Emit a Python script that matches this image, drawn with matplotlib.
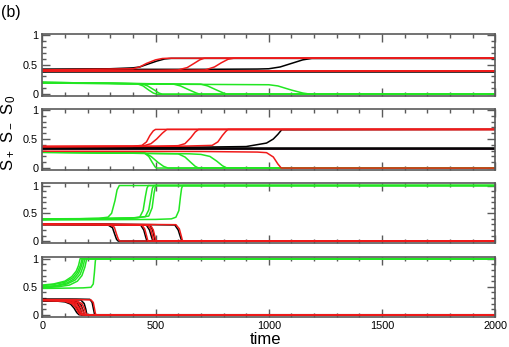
import matplotlib
matplotlib.use("Agg")
import matplotlib.pyplot as plt
from matplotlib.ticker import MultipleLocator, FixedLocator

plt.rcParams['font.family'] = ['Liberation Sans', 'DejaVu Sans']

# ---------------- data (time, value) for each curve ----------------
X_TICKS = [0, 500, 1000, 1500, 2000]
Y_TICKS = [0, 0.5, 1]
Y_TICK_LABELS = ["0", "0.5", "1"]

# Panel 1
P1_RED = [
    ([0, 2000], [0.392, 0.392]),
    ([0, 2000], [0.386, 0.386]),
    ([0, 2000], [0.397, 0.397]),
    ([0, 400, 430, 460, 500, 530, 560, 2000], [0.41, 0.43, 0.46, 0.52, 0.58, 0.603, 0.608, 0.608]),
    ([0, 500, 600, 640, 670, 695, 715, 2000], [0.40, 0.40, 0.41, 0.45, 0.52, 0.58, 0.608, 0.608]),
    ([0, 600, 720, 760, 790, 820, 845, 2000], [0.40, 0.40, 0.41, 0.46, 0.53, 0.59, 0.608, 0.608]),
]
P1_BLACK = [
    ([0, 2000], [0.383, 0.383]),
    ([0, 300, 400, 430, 460, 506, 540, 570, 2000], [0.42, 0.43, 0.445, 0.46, 0.50, 0.56, 0.595, 0.605, 0.605]),
    ([0, 700, 950, 1000, 1050, 1100, 1150, 1190, 2000], [0.42, 0.42, 0.425, 0.43, 0.46, 0.52, 0.58, 0.605, 0.605]),
]
P1_GREEN = [
    ([0, 300, 420, 445, 470, 490, 506, 2000], [0.20, 0.185, 0.175, 0.14, 0.07, 0.02, 0, 0]),
    ([0, 300, 440, 465, 495, 515, 530, 2000], [0.20, 0.185, 0.175, 0.14, 0.07, 0.02, 0, 0]),
    ([0, 400, 580, 610, 650, 680, 696, 2000], [0.20, 0.18, 0.17, 0.14, 0.07, 0.02, 0, 0]),
    ([0, 400, 700, 730, 770, 800, 815, 2000], [0.19, 0.18, 0.17, 0.14, 0.07, 0.02, 0, 0]),
    ([0, 500, 1000, 1040, 1100, 1150, 1185, 2000], [0.19, 0.17, 0.16, 0.14, 0.07, 0.02, 0, 0]),
]

# Panel 2
P2_RED = [
    ([0, 400, 440, 460, 475, 490, 500, 2000], [0.37, 0.375, 0.39, 0.45, 0.56, 0.64, 0.665, 0.665]),
    ([0, 400, 450, 480, 505, 530, 550, 2000], [0.37, 0.375, 0.385, 0.42, 0.50, 0.60, 0.665, 0.665]),
    ([0, 500, 600, 630, 655, 675, 690, 2000], [0.37, 0.375, 0.385, 0.42, 0.52, 0.62, 0.665, 0.665]),
    ([0, 600, 750, 775, 795, 810, 820, 2000], [0.37, 0.375, 0.39, 0.45, 0.56, 0.63, 0.665, 0.665]),
    ([0, 700, 950, 990, 1020, 1040, 1055, 2000], [0.29, 0.285, 0.275, 0.265, 0.19, 0.07, 0, 0]),
]
P2_BLACK = [
    ([0, 2000], [0.337, 0.337]),
    ([0, 2000], [0.333, 0.333]),
    ([0, 700, 900, 990, 1020, 1040, 1057, 2000], [0.355, 0.36, 0.37, 0.43, 0.50, 0.58, 0.66, 0.665]),
]
P2_PURPLE = [
    ([0, 2000], [0.329, 0.329]),
]
P2_GREEN = [
    ([0, 300, 450, 470, 485, 498, 505, 2000], [0.28, 0.265, 0.26, 0.20, 0.10, 0.02, 0, 0]),
    ([0, 300, 455, 480, 510, 535, 555, 2000], [0.275, 0.26, 0.255, 0.20, 0.10, 0.03, 0, 0]),
    ([0, 400, 600, 630, 655, 675, 690, 2000], [0.27, 0.255, 0.245, 0.19, 0.10, 0.03, 0, 0]),
    ([0, 400, 650, 700, 740, 770, 795, 815, 2000], [0.27, 0.255, 0.245, 0.235, 0.20, 0.12, 0.04, 0, 0]),
]

# Panel 3
P3_GREEN = [
    ([0, 150, 250, 290, 306, 321, 330, 340, 2000], [0.39, 0.40, 0.41, 0.43, 0.50, 0.73, 0.92, 1.0, 1.0]),
    ([0, 250, 380, 430, 445, 455, 462, 468, 2000], [0.39, 0.40, 0.41, 0.43, 0.55, 0.80, 0.95, 1.0, 1.0]),
    ([0, 250, 400, 455, 470, 480, 486, 492, 2000], [0.395, 0.405, 0.415, 0.44, 0.56, 0.80, 0.95, 1.0, 1.0]),
    ([0, 250, 420, 470, 485, 493, 500, 2000], [0.40, 0.405, 0.42, 0.45, 0.60, 0.85, 1.0, 1.0]),
    ([0, 300, 500, 570, 590, 603, 610, 615, 620, 2000], [0.38, 0.385, 0.39, 0.40, 0.43, 0.55, 0.80, 0.95, 1.0, 1.0]),
]
P3_BLACK = [
    ([0, 200, 290, 310, 320, 328, 335, 2000], [0.30, 0.30, 0.29, 0.24, 0.12, 0.03, 0, 0]),
    ([0, 300, 435, 448, 456, 462, 2000], [0.30, 0.295, 0.285, 0.20, 0.08, 0, 0]),
    ([0, 300, 460, 473, 482, 488, 2000], [0.30, 0.295, 0.285, 0.20, 0.08, 0, 0]),
    ([0, 300, 475, 487, 494, 499, 2000], [0.30, 0.295, 0.285, 0.20, 0.08, 0, 0]),
    ([0, 300, 585, 600, 610, 616, 2000], [0.31, 0.305, 0.29, 0.20, 0.07, 0, 0]),
]
P3_RED = [
    ([0, 200, 300, 318, 328, 336, 343, 2000], [0.30, 0.30, 0.29, 0.25, 0.12, 0.03, 0, 0]),
    ([0, 300, 440, 452, 460, 465, 468, 2000], [0.30, 0.295, 0.285, 0.22, 0.10, 0.02, 0, 0]),
    ([0, 300, 465, 478, 486, 490, 493, 2000], [0.30, 0.295, 0.285, 0.22, 0.10, 0.02, 0, 0]),
    ([0, 300, 478, 490, 497, 502, 2000], [0.30, 0.295, 0.285, 0.20, 0.08, 0, 0]),
    ([0, 300, 590, 605, 613, 618, 621, 2000], [0.31, 0.305, 0.295, 0.22, 0.10, 0.02, 0, 0]),
]

# Panel 4
P4_GREEN = [
    ([0, 50, 100, 130, 150, 160, 167, 2000], [0.53, 0.55, 0.60, 0.68, 0.78, 0.88, 1.0, 1.0]),
    ([0, 50, 100, 135, 155, 168, 176, 2000], [0.52, 0.54, 0.58, 0.66, 0.76, 0.88, 1.0, 1.0]),
    ([0, 60, 110, 140, 160, 173, 181, 2000], [0.50, 0.52, 0.57, 0.64, 0.74, 0.87, 1.0, 1.0]),
    ([0, 60, 110, 145, 167, 180, 188, 2000], [0.49, 0.51, 0.55, 0.62, 0.72, 0.86, 1.0, 1.0]),
    ([0, 70, 120, 155, 175, 188, 196, 2000], [0.48, 0.50, 0.53, 0.60, 0.70, 0.85, 1.0, 1.0]),
    ([0, 100, 180, 215, 225, 230, 234, 236, 2000], [0.47, 0.475, 0.48, 0.49, 0.55, 0.75, 0.95, 1.0, 1.0]),
]
P4_BLACK = [
    ([0, 60, 100, 125, 140, 152, 162, 2000], [0.25, 0.245, 0.23, 0.19, 0.12, 0.04, 0, 0]),
    ([0, 70, 110, 138, 152, 163, 172, 2000], [0.27, 0.265, 0.25, 0.21, 0.13, 0.04, 0, 0]),
    ([0, 80, 125, 155, 168, 176, 2000], [0.25, 0.245, 0.24, 0.20, 0.10, 0, 0]),
    ([0, 100, 150, 170, 180, 186, 2000], [0.25, 0.25, 0.24, 0.18, 0.08, 0, 0]),
    ([0, 120, 170, 185, 192, 197, 2000], [0.27, 0.27, 0.265, 0.20, 0.10, 0, 0]),
    ([0, 150, 210, 220, 226, 231, 2000], [0.28, 0.28, 0.275, 0.22, 0.10, 0, 0]),
]
P4_RED = [
    ([0, 60, 100, 130, 145, 158, 167, 2000], [0.26, 0.255, 0.24, 0.20, 0.14, 0.05, 0, 0]),
    ([0, 70, 110, 140, 155, 167, 176, 2000], [0.26, 0.255, 0.24, 0.20, 0.13, 0.04, 0, 0]),
    ([0, 80, 120, 150, 163, 174, 181, 2000], [0.25, 0.245, 0.235, 0.20, 0.12, 0.03, 0, 0]),
    ([0, 80, 130, 160, 172, 182, 188, 2000], [0.26, 0.255, 0.245, 0.21, 0.13, 0.04, 0, 0]),
    ([0, 100, 150, 175, 185, 192, 197, 2000], [0.27, 0.265, 0.25, 0.20, 0.12, 0.03, 0, 0]),
    ([0, 150, 215, 225, 230, 234, 237, 2000], [0.27, 0.27, 0.265, 0.22, 0.12, 0.03, 0, 0]),
]

PANELS = [
    [("k", P1_BLACK), ("r", P1_RED), ("g", P1_GREEN)],
    [("g", P2_GREEN), ("p", P2_PURPLE), ("k", P2_BLACK), ("r", P2_RED)],
    [("g", P3_GREEN), ("k", P3_BLACK), ("r", P3_RED)],
    [("g", P4_GREEN), ("k", P4_BLACK), ("r", P4_RED)],
]
COLORS = {"g": "#22e622", "r": "#f01a1a", "k": "#000000", "p": "#5a1040"}

# ---------------- layout ----------------
W, H = 509, 347
fig = plt.figure(figsize=(W / 100, H / 100), dpi=100)
boxes = [(33.5, 95.7), (108.5, 169.5), (183.3, 243.3), (256.5, 317.0)]
ylims = [(-0.025, 1.025), (-0.025, 1.025), (-0.04, 1.04), (-0.04, 1.04)]
left_px, right_px = 42.3, 495.3
spine_col = "#5a5a5a"

for i, (top, bot) in enumerate(boxes):
    ax = fig.add_axes([left_px / W, 1 - bot / H, (right_px - left_px) / W, (bot - top) / H])
    for key, curves in PANELS[i]:
        for t, v in curves:
            ax.plot(t, v, color=COLORS[key], lw=1.1, solid_joinstyle="round")
    ax.set_xlim(0, 2000)
    ax.set_ylim(*ylims[i])
    ax.xaxis.set_major_locator(FixedLocator(X_TICKS))
    ax.xaxis.set_minor_locator(MultipleLocator(100))
    ax.yaxis.set_major_locator(FixedLocator(Y_TICKS))
    ax.yaxis.set_minor_locator(MultipleLocator(0.1))
    ax.set_yticklabels(Y_TICK_LABELS)
    ax.tick_params(which="both", direction="in", top=True, right=True, color=spine_col, width=1.0,
                   labelsize=7.8, pad=3)
    ax.tick_params(which="major", length=5.5)
    ax.tick_params(which="minor", length=3)
    for s in ax.spines.values():
        s.set_color(spine_col)
        s.set_linewidth(1.2)
    if i < 3:
        ax.set_xticklabels([])
    else:
        ax.set_xticklabels([str(x) for x in X_TICKS])

fig.text(1 / W, 1 - 12 / H, "(b)", fontsize=11.5, ha="left", va="center")
fig.text(8.5 / W, 1 - 133 / H, r"$\mathregular{S_+\ S_-\ S_0}$", fontsize=12, rotation=90,
         ha="center", va="center")
fig.text(266 / W, 1 - 339 / H, "time", fontsize=12, ha="center", va="center")

fig.savefig("out.png", dpi=100)
